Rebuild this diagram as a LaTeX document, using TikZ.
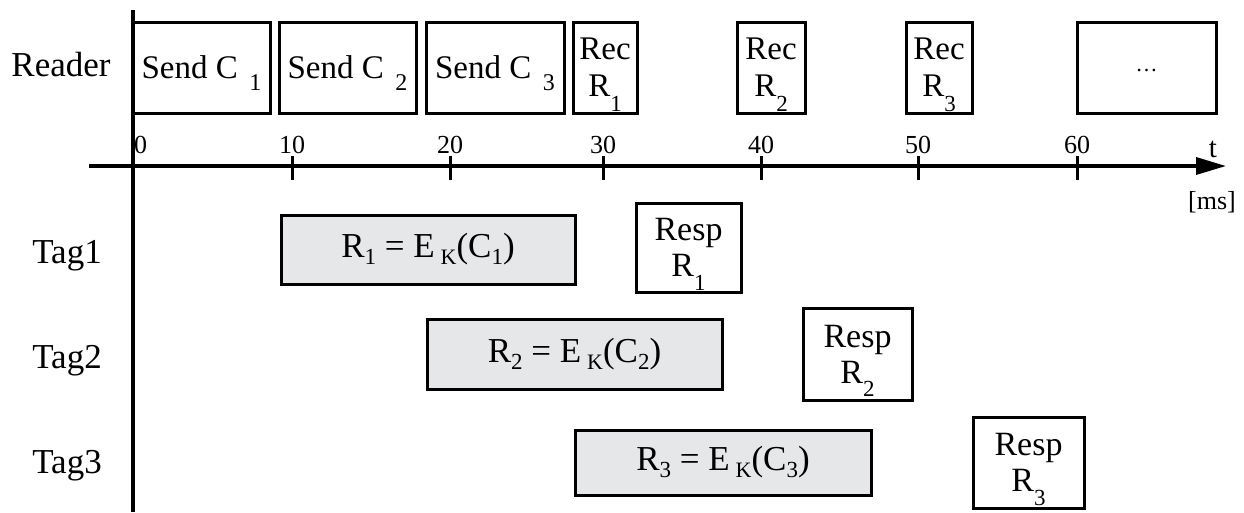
\documentclass[tikz,border=0pt]{standalone}
\usepackage{fontspec}
\setmainfont{Liberation Serif}
\usetikzlibrary{arrows.meta}
\definecolor{fillgray}{HTML}{E6E7E8}
\newcommand\lowsub[3][0.35em]{\smash{\raisebox{-#1}{\fontsize{#2}{#2}\selectfont #3}}}
\begin{document}
\begin{tikzpicture}[x=1pt,y=-1pt,
  box/.style={draw, line width=3pt, inner sep=0pt, align=center},
  graybox/.style={box, fill=fillgray, font=\fontsize{35}{38}\selectfont},
  sendbox/.style={box, minimum height=91pt, font=\fontsize{33}{36}\selectfont},
  recbox/.style={box, minimum height=91pt, font=\fontsize{33}{37}\selectfont},
  respbox/.style={box, font=\fontsize{34}{36}\selectfont},
  ax/.style={line width=3.5pt},
  tk/.style={line width=3pt},
  rowlbl/.style={font=\fontsize{35}{40}\selectfont, anchor=base, inner sep=0pt},
  ticklbl/.style={font=\fontsize{26}{26}\selectfont, anchor=base, inner sep=0pt},
]
\useasboundingbox (0,0) rectangle (1244,512);

% axes
\coordinate (vtop) at (133,10);
\coordinate (vbot) at (133,512);
\draw[ax] (vtop) -- (vbot);
\coordinate (hstart) at (89,166);
\coordinate (hend) at (1226,166);
\draw[ax,-{Triangle[length=30pt,width=17pt]}] (hstart) -- (hend);

% ticks and labels
\node[ticklbl, anchor=base west] (tl0) at (134,153) {0};
\foreach \t/\x in {10/292,20/450,30/603,40/761,50/918,60/1077}{
  \draw[tk] (\x,156) -- (\x,180);
  \node[ticklbl] (tl\t) at (\x,153) {\t};
}
\node[ticklbl, font=\fontsize{29}{29}\selectfont] (tlt) at (1213,157) {t};
\node[ticklbl, font=\fontsize{26}{26}\selectfont] (tlms) at (1212,209) {[ms]};

% row labels
\node[rowlbl] (reader) at (61,76) {Reader};
\node[rowlbl] (tag1) at (67,263) {Tag1};
\node[rowlbl] (tag2) at (67,368) {Tag2};
\node[rowlbl] (tag3) at (67,473) {Tag3};

% reader row
\node[sendbox, minimum width=137pt] (sc1) at (201.5,67.5) {Send C\hspace{0.35em}\lowsub{24}{1}};
\node[sendbox, minimum width=137pt] (sc2) at (347.5,67.5) {Send C\hspace{0.35em}\lowsub{24}{2}};
\node[sendbox, minimum width=138pt] (sc3) at (495,67.5) {Send C\hspace{0.35em}\lowsub{24}{3}};
\node[recbox, minimum width=64pt] (rec1) at (605,67.5) {Rec\\R\lowsub[0.45em]{23}{1}};
\node[recbox, minimum width=68pt] (rec2) at (771,67.5) {Rec\\R\lowsub[0.45em]{23}{2}};
\node[recbox, minimum width=66pt] (rec3) at (939,67.5) {Rec\\R\lowsub[0.45em]{23}{3}};
\node[sendbox, minimum width=139pt] (more) at (1146.5,67.5) {\raisebox{-8pt}{\fontsize{22}{22}\selectfont …}};

% computation boxes
\node[graybox, minimum width=294pt, minimum height=69pt] (g1) at (428,249.5)
  {R\lowsub[0.2em]{23}{1} = E\,\lowsub[0.2em]{22}{K}(C\lowsub[0.2em]{23}{1})};
\node[graybox, minimum width=295pt, minimum height=70pt] (g2) at (574.5,354)
  {R\lowsub[0.2em]{23}{2} = E\,\lowsub[0.2em]{22}{K}(C\lowsub[0.2em]{23}{2})};
\node[graybox, minimum width=296pt, minimum height=65pt] (g3) at (723,462.5)
  {R\lowsub[0.2em]{23}{3} = E\,\lowsub[0.2em]{22}{K}(C\lowsub[0.2em]{23}{3})};

% response boxes
\node[respbox, minimum width=105pt, minimum height=89pt] (p1) at (688.5,247.5) {Resp\\R\lowsub[0.4em]{23}{1}};
\node[respbox, minimum width=109pt, minimum height=92pt] (p2) at (857.5,354) {Resp\\R\lowsub[0.4em]{23}{2}};
\node[respbox, minimum width=111pt, minimum height=91pt] (p3) at (1028.5,462.5) {Resp\\R\lowsub[0.4em]{23}{3}};
\end{tikzpicture}
\end{document}
